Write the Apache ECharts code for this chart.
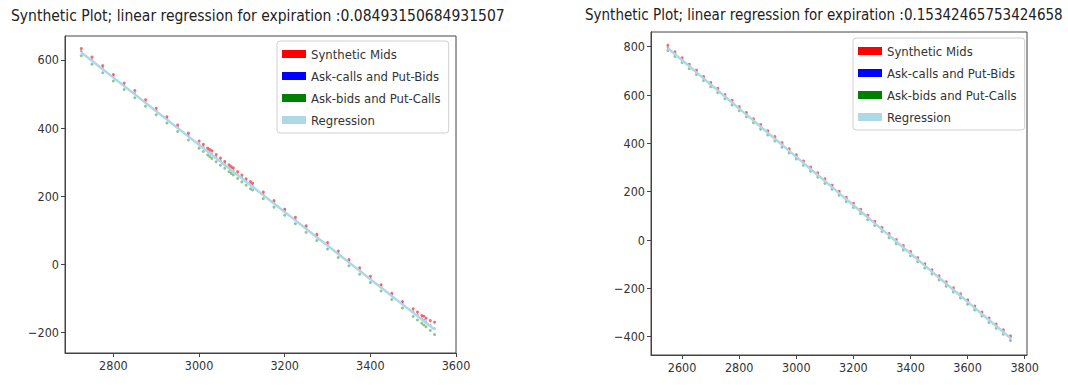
<!DOCTYPE html>
<html>
<head>
<meta charset="utf-8">
<script src="https://cdn.jsdelivr.net/npm/echarts@6/dist/echarts.min.js"></script>
<style>
html,body{margin:0;padding:0;background:#fff;}
#chart{width:1068px;height:385px;}
</style>
</head>
<body>
<div id="chart"></div>
<script>
// ---------- Data ----------
const leftTitle = 'Synthetic Plot; linear regression for expiration :0.08493150684931507';
const rightTitle = 'Synthetic Plot; linear regression for expiration :0.15342465753424658';
const legendNames = ['Synthetic Mids', 'Ask-calls and Put-Bids', 'Ask-bids and Put-Calls', 'Regression'];
const legendColors = ['#ff0000', '#0000ff', '#008000', '#add8e6'];

const leftStrikes = [2725,2750,2775,2800,2825,2850,2875,2900,2925,2950,2975,3000,3010,3020,3025,3030,3040,3050,3060,3070,3075,3080,3090,3100,3110,3120,3125,3150,3175,3200,3225,3250,3275,3300,3325,3350,3375,3400,3425,3450,3475,3500,3510,3520,3525,3530,3540,3550];
const leftMids = [633,608,583,557,532,510,483,458,433,409,385,362,352,341,337,333,322,312,302,292,287,283,272,262,251,243,238,212,187,162,138,113,88,64,39,14,-10,-35,-60,-85,-109,-130,-140,-150,-152,-158,-165,-170];
const leftAskCalls = [625,600,576,551,526,502,477,452,428,403,379,354,344,334,329,324,314,305,295,285,280,275,265,255,245,236,231,206,181,157,132,108,83,58,34,9,-16,-40,-65,-89,-114,-138,-148,-158,-163,-168,-178,-188];
const leftAskBids = [612,587,562,538,513,489,464,439,415,390,365,341,331,321,316,311,301,291,282,272,267,262,252,242,232,222,218,193,168,144,119,94,70,45,20,-4,-29,-53,-78,-103,-128,-153,-163,-173,-178,-183,-194,-206];
const leftRegression = [621.8,597.2,572.6,547.9,523.3,498.7,474.0,449.4,424.7,400.1,375.5,350.8,341.0,331.1,326.2,321.3,311.4,301.6,291.7,281.9,276.9,272.0,262.1,252.3,242.4,232.6,227.7,203.0,178.4,153.7,129.1,104.5,79.8,55.2,30.6,5.9,-18.7,-43.4,-68.0,-92.6,-117.3,-141.9,-151.8,-161.6,-166.5,-171.5,-181.3,-191.2];

const rightStrikes = [2550,2575,2600,2625,2650,2675,2700,2725,2750,2775,2800,2825,2850,2875,2900,2925,2950,2975,3000,3025,3050,3075,3100,3125,3150,3175,3200,3225,3250,3275,3300,3325,3350,3375,3400,3425,3450,3475,3500,3525,3550,3575,3600,3625,3650,3675,3700,3725,3750];
const rightMids = [806,779,754,727,703,677,652,628,602,578,552,528,502,478,452,428,403,378,353,327,302,278,253,227,202,177,152,127,102,77,52,27,2,-23,-48,-73,-98,-123,-148,-173,-198,-223,-248,-273,-298,-323,-348,-372,-397];
const rightAskCalls = [796,772,746,720,696,671,647,621,596,570,546,522,496,471,447,421,395,371,346,322,296,270,246,221,197,171,146,120,96,71,47,21,-4,-30,-54,-79,-103,-129,-154,-180,-204,-229,-253,-279,-304,-330,-354,-379,-404];
const rightAskBids = [784,760,735,709,685,660,634,610,585,559,535,510,485,459,435,410,384,360,335,309,285,260,234,210,185,159,135,110,84,60,35,9,-15,-41,-65,-90,-116,-140,-165,-191,-215,-240,-266,-290,-315,-341,-365,-390,-416];
const rightRegression = [794,769,744,719,694,669,644,619,594,569,544,519,494,469,444,419,394,369,344,319,294,269,244,219,194,169,144,119,94,69,44,19,-6,-31,-56,-81,-106,-131,-156,-181,-206,-231,-256,-281,-306,-331,-356,-381,-406];

const leftXTicks = [2800,3000,3200,3400,3600];
const leftYTicks = [-200,0,200,400,600];
const rightXTicks = [2600,2800,3000,3200,3400,3600,3800];
const rightYTicks = [-400,-200,0,200,400,600,800];

// ---------- Chart ----------
const FONT = '"DejaVu Sans Condensed", "DejaVu Sans", sans-serif';
const AXIS_COLOR = '#444';
const pairs = (xs, ys) => xs.map((x, i) => [x, ys[i]]);
const fmt = v => (v < 0 ? '\u2212' + Math.abs(v) : String(v));

function axis(gridIndex, min, max, ticks) {
  return {
    type: 'value', gridIndex, min, max,
    axisLine: { show: true, onZero: false, lineStyle: { color: AXIS_COLOR, width: 1 } },
    axisTick: { show: true, customValues: ticks, length: 4, lineStyle: { color: AXIS_COLOR } },
    axisLabel: { customValues: ticks, formatter: fmt, color: '#333', fontFamily: FONT, fontSize: 12.5, margin: 6 },
    splitLine: { show: false }
  };
}
function seriesFor(idx, strikes, mids, askCalls, askBids, reg) {
  return [
    { name: legendNames[0], type: 'scatter', xAxisIndex: idx, yAxisIndex: idx, data: pairs(strikes, mids),
      symbol: 'circle', symbolSize: 3, itemStyle: { color: 'rgba(255,0,0,0.75)' }, z: 3 },
    { name: legendNames[1], type: 'scatter', xAxisIndex: idx, yAxisIndex: idx, data: pairs(strikes, askCalls),
      symbol: 'circle', symbolSize: 2.5, itemStyle: { color: 'rgba(0,0,255,0.45)' }, z: 3 },
    { name: legendNames[2], type: 'scatter', xAxisIndex: idx, yAxisIndex: idx, data: pairs(strikes, askBids),
      symbol: 'circle', symbolSize: 3, itemStyle: { color: 'rgba(0,128,0,0.55)' }, z: 3 },
    { name: legendNames[3], type: 'line', xAxisIndex: idx, yAxisIndex: idx, data: pairs(strikes, reg),
      showSymbol: false, symbol: 'none', lineStyle: { color: '#add8e6', width: 2.5 }, itemStyle: { color: '#add8e6' }, z: 4 }
  ];
}
function legendAt(left, top) {
  return {
    data: legendNames.map((n, i) => ({ name: n, itemStyle: { color: legendColors[i], opacity: 1 } })),
    orient: 'vertical', left, top, icon: 'rect',
    itemWidth: 24, itemHeight: 8, itemGap: 8,
    padding: [6, 8, 6, 5], backgroundColor: '#fff',
    borderColor: '#d0d0d0', borderWidth: 1, borderRadius: 3,
    textStyle: { fontFamily: FONT, fontSize: 13, lineHeight: 14, color: '#333' },
    selectedMode: false
  };
}

const chart = echarts.init(document.getElementById('chart'), null, { renderer: 'svg' });
chart.setOption({
  animation: false,
  backgroundColor: '#fff',
  title: [
    { text: leftTitle, left: 6, top: 3, textStyle: { fontFamily: FONT, fontSize: 15.5, fontWeight: 'normal', color: '#222' } },
    { text: rightTitle, left: 580, top: 2, textStyle: { fontFamily: FONT, fontSize: 15, fontWeight: 'normal', color: '#222' } }
  ],
  legend: [legendAt(277, 41), legendAt(853, 38)],
  grid: [
    { left: 65, right: 612, top: 36, bottom: 32, show: true, borderColor: AXIS_COLOR, borderWidth: 1, containLabel: false },
    { left: 651, right: 41, top: 32, bottom: 30, show: true, borderColor: AXIS_COLOR, borderWidth: 1, containLabel: false }
  ],
  xAxis: [axis(0, 2687, 3600, leftXTicks), axis(1, 2491, 3808, rightXTicks)],
  yAxis: [axis(0, -260, 670, leftYTicks), axis(1, -476, 861, rightYTicks)],
  series: [
    ...seriesFor(0, leftStrikes, leftMids, leftAskCalls, leftAskBids, leftRegression),
    ...seriesFor(1, rightStrikes, rightMids, rightAskCalls, rightAskBids, rightRegression)
  ]
});
</script>
</body>
</html>
